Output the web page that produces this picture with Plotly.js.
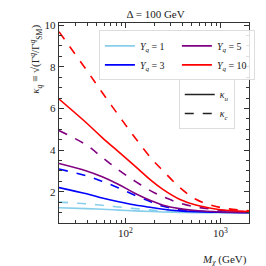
<!DOCTYPE html>
<html><head><meta charset="utf-8">
<script src="https://cdn.plot.ly/plotly-3.0.1.min.js"></script>
<style>html,body{margin:0;padding:0;background:#fff}#chart{width:266px;height:266px}</style>
</head><body><div id="chart"></div>
<script>
// Mediator mass M_chi (GeV)
const mass = [20, 39, 57, 85, 127, 189, 250, 371, 551, 820, 1218, 2000];
// Yukawa couplings
const yq = [1, 3, 5, 10];
const colors = ['#87CEEB', '#0000FF', '#800080', '#FF0000'];
// kappa_u (solid)
const kappaU = [
  [1.23, 1.19, 1.16, 1.12, 1.08, 1.05, 1.03, 1.01, 1.00, 1.00, 1.00, 1.00],
  [2.20, 1.90, 1.70, 1.52, 1.36, 1.24, 1.16, 1.08, 1.04, 1.02, 1.01, 1.00],
  [3.36, 3.00, 2.72, 2.35, 1.92, 1.56, 1.35, 1.19, 1.10, 1.05, 1.02, 1.01],
  [6.45, 5.30, 4.60, 3.91, 3.22, 2.52, 2.10, 1.64, 1.36, 1.20, 1.10, 1.05]
];
// kappa_c (dashed)
const kappaC = [
  [1.50, 1.42, 1.35, 1.27, 1.19, 1.12, 1.08, 1.04, 1.02, 1.01, 1.00, 1.00],
  [3.09, 2.76, 2.50, 2.18, 1.82, 1.50, 1.30, 1.15, 1.08, 1.04, 1.02, 1.01],
  [4.94, 4.24, 3.65, 3.04, 2.50, 2.02, 1.76, 1.46, 1.27, 1.16, 1.08, 1.04],
  [9.68, 7.84, 6.76, 5.66, 4.58, 3.58, 3.00, 2.22, 1.64, 1.34, 1.18, 1.09]
];
const xTickVals = [100, 1000];
const xTickText = ['10<sup>2</sup>', '10<sup>3</sup>'];
const yTickVals = [2, 4, 6, 8, 10];

const serif = 'Liberation Serif, DejaVu Serif, serif';
const traces = [];
const legendOrder = [0, 2, 1, 3];
yq.forEach((y, i) => {
  traces.push({x: mass, y: kappaC[i], mode: 'lines', line: {color: colors[i], width: 1.6, dash: 'dash', shape: 'spline', smoothing: 1}, showlegend: false, hoverinfo: 'skip'});
});
yq.forEach((y, i) => {
  traces.push({x: mass, y: kappaU[i], mode: 'lines', line: {color: colors[i], width: 1.6, shape: 'spline', smoothing: 1},
    name: '<i>Y<sub>q</sub></i> = ' + y, legendrank: legendOrder.indexOf(i) + 1, legend: 'legend', hoverinfo: 'skip'});
});
traces.push({x: [null], y: [null], mode: 'lines', line: {color: '#222', width: 1.6}, name: '<i>κ<sub>u</sub></i>', legend: 'legend2'});
traces.push({x: [null], y: [null], mode: 'lines', line: {color: '#222', width: 1.6, dash: 'dash'}, name: '<i>κ<sub>c</sub></i>', legend: 'legend2'});

const minorX = [];
[10, 100, 1000].forEach(d => { for (let k = 2; k <= 9; k++) minorX.push(k * d); });

const layout = {
  width: 266, height: 266,
  margin: {l: 59, r: 11, t: 23, b: 43},
  paper_bgcolor: '#fff', plot_bgcolor: '#fff',
  font: {family: serif, size: 11, color: '#222'},
  title: {text: 'Δ = 100 GeV', font: {family: serif, size: 11}, x: 0.585, xanchor: 'center', y: 0.945, yanchor: 'middle'},
  xaxis: {type: 'log', range: [Math.log10(20), Math.log10(2000)], tickvals: xTickVals, ticktext: xTickText,
    ticks: 'inside', ticklen: 5, tickcolor: '#333', mirror: 'allticks', showline: true, linecolor: '#333', linewidth: 1.2,
    showgrid: false, zeroline: false, tickfont: {family: serif, size: 11},
    minor: {tickvals: minorX, ticks: 'inside', ticklen: 3, tickcolor: '#333', showgrid: false}},
  yaxis: {range: [0.5, 10.1], tickvals: yTickVals, ticks: 'inside', ticklen: 5, tickcolor: '#333', mirror: 'allticks',
    showline: true, linecolor: '#333', linewidth: 1.2, showgrid: false, zeroline: false, tickfont: {family: serif, size: 11},
    minor: {dtick: 0.5, ticks: 'inside', ticklen: 3, tickcolor: '#333', showgrid: false}},
  legend: {orientation: 'h', x: 0.21, y: 0.963, xanchor: 'left', yanchor: 'top', entrywidth: 32, entrywidthmode: 'pixels',
    bgcolor: 'rgba(255,255,255,0.85)', bordercolor: '#ddd', borderwidth: 1, font: {family: serif, size: 10}, traceorder: 'normal'},
  legend2: {x: 0.925, y: 0.72, xanchor: 'right', yanchor: 'top', bgcolor: 'rgba(255,255,255,0.85)', bordercolor: '#ddd', borderwidth: 1,
    font: {family: serif, size: 10}},
  annotations: [
    {text: '<i>κ<sub>q</sub></i> ≡ √<span>(</span>Γ<sup><i>q</i></sup>/Γ<sup><i>q</i></sup><sub>SM</sub>)', textangle: -90, xref: 'paper', yref: 'paper',
     x: -0.125, y: 1.0, xanchor: 'center', yanchor: 'top', showarrow: false, font: {family: serif, size: 11}},
    {text: '<i>M<sub>χ</sub></i> (GeV)', xref: 'paper', yref: 'paper', x: 1.0, y: -0.14, xanchor: 'right', yanchor: 'top', showarrow: false,
     font: {family: serif, size: 11}}
  ]
};
Plotly.newPlot('chart', traces, layout, {staticPlot: true, displayModeBar: false});
</script></body></html>
